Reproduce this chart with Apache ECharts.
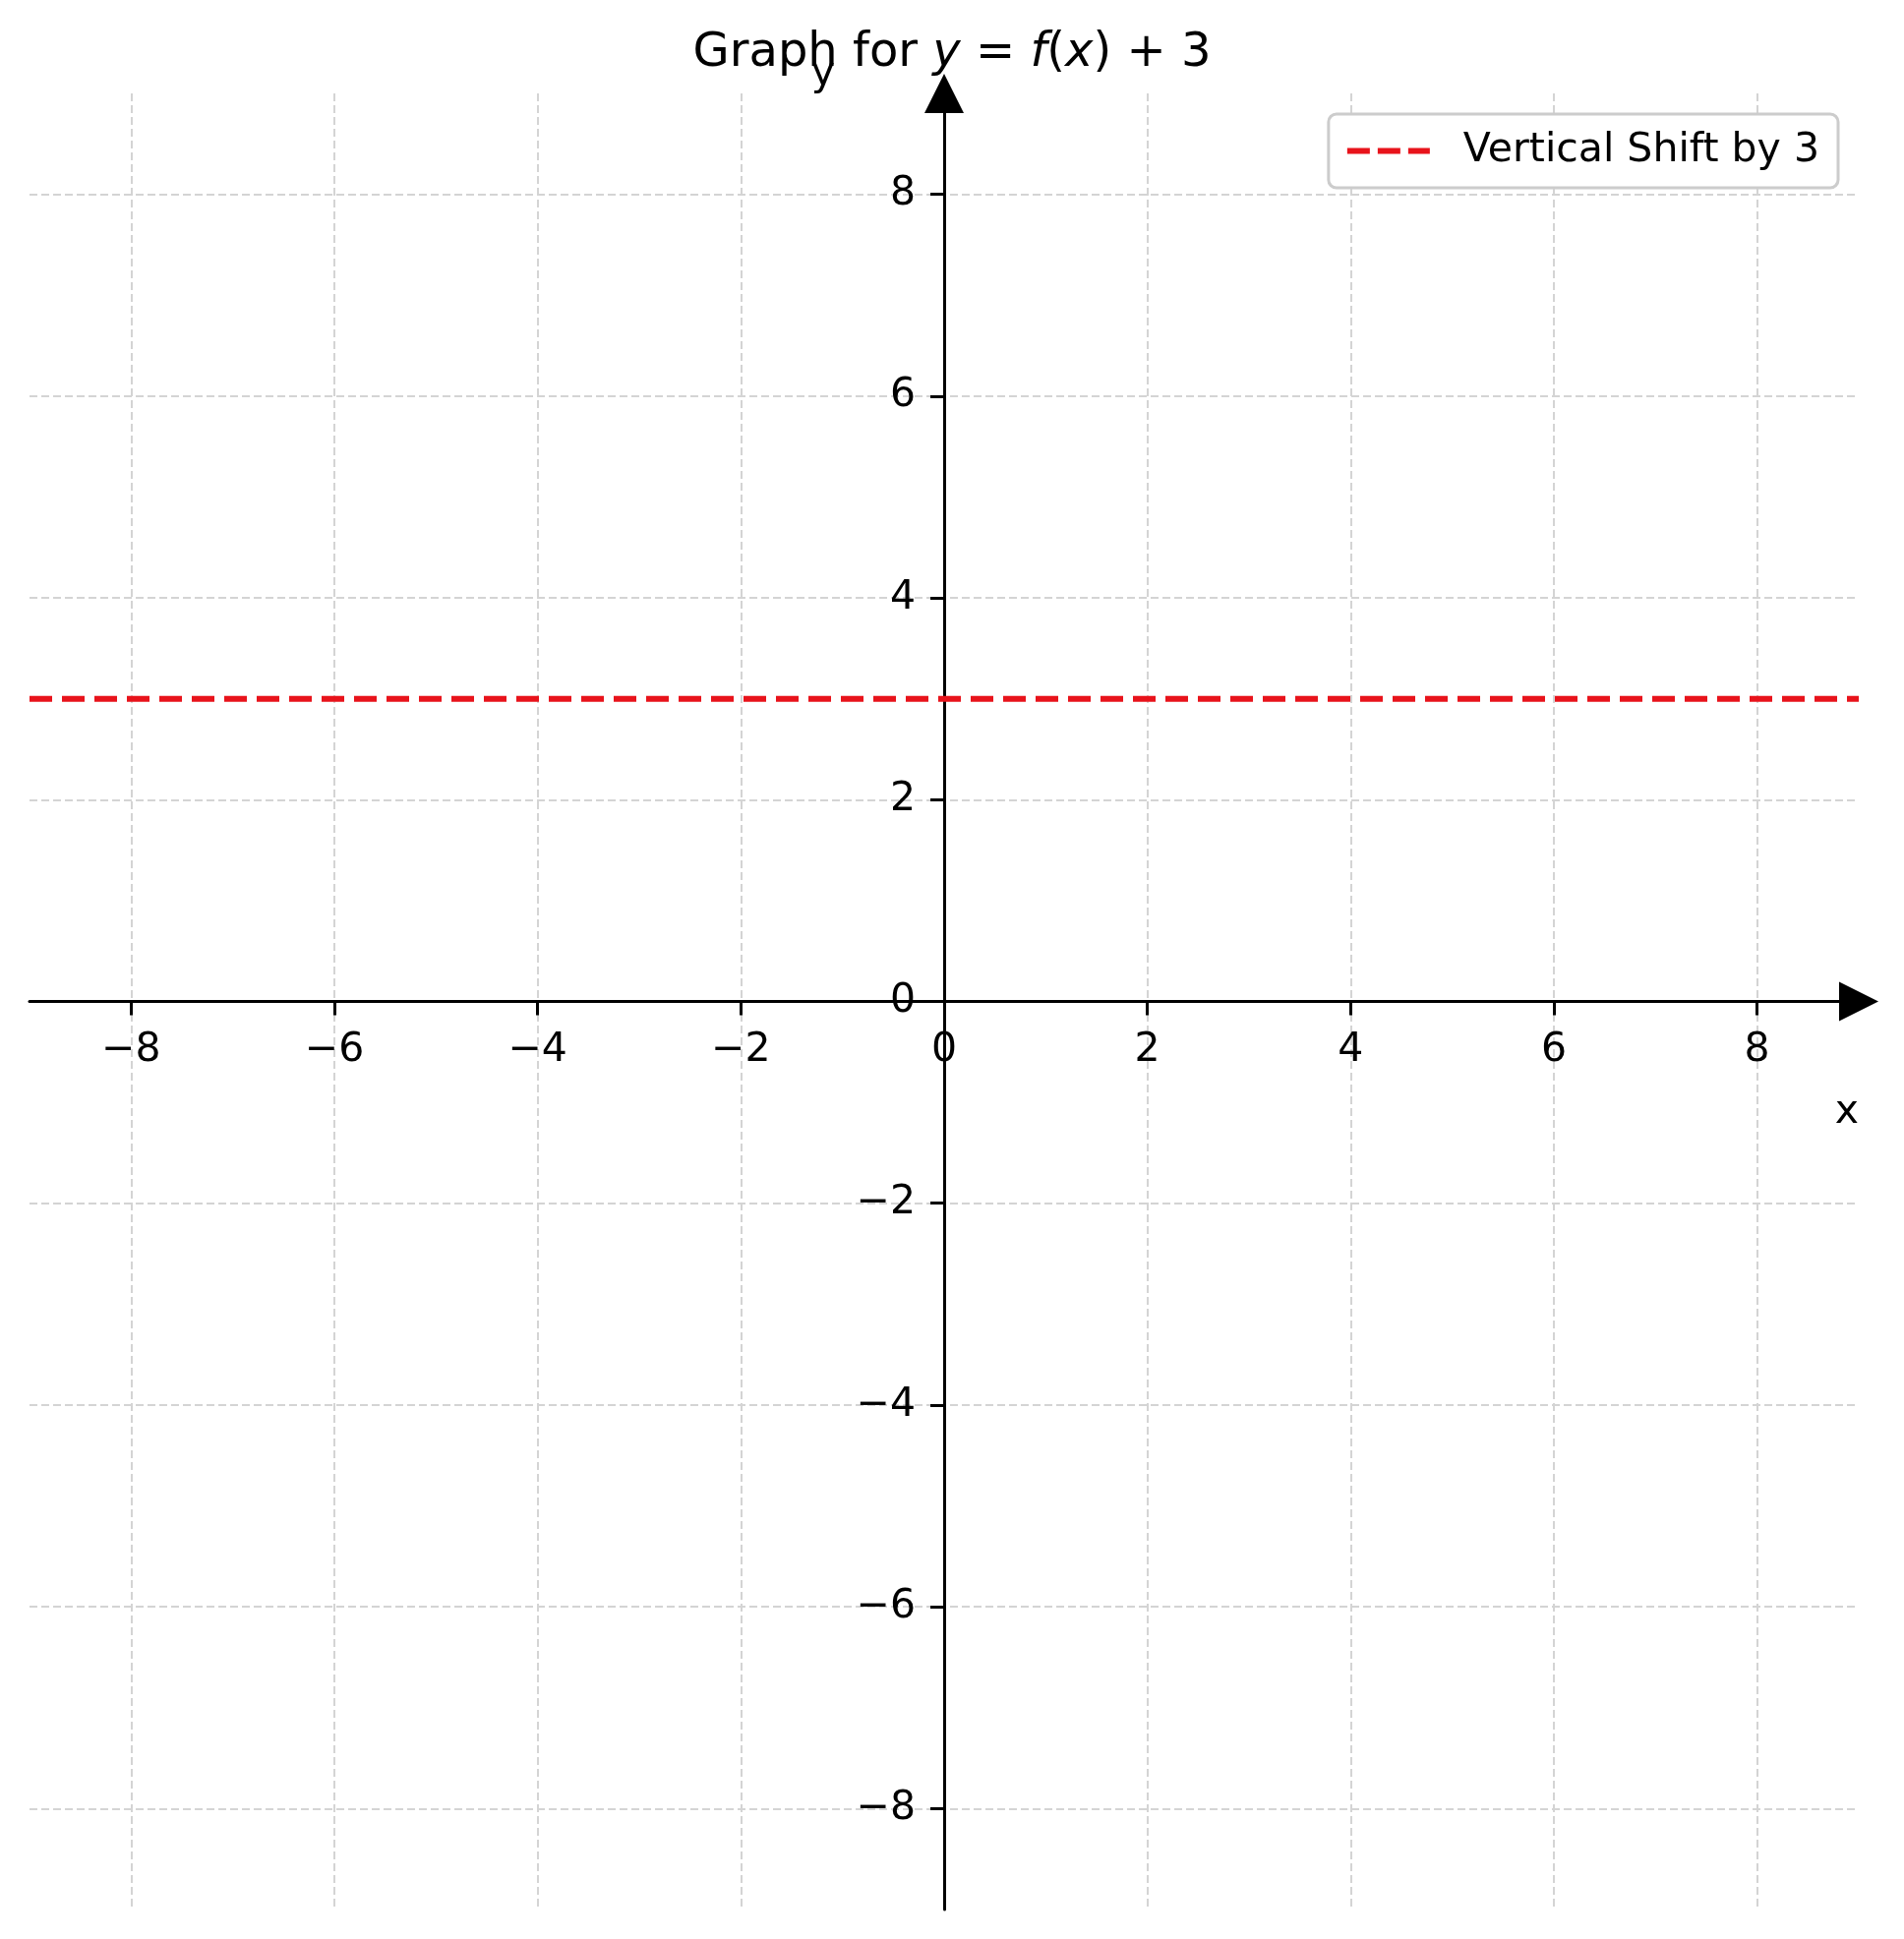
<!DOCTYPE html>
<html>
<head>
<meta charset="utf-8">
<script src="https://cdn.jsdelivr.net/npm/echarts@6/dist/echarts.min.js"></script>
<style>
  html, body { margin: 0; padding: 0; background: #fff; }
  #main { width: 1936px; height: 1972px; }
</style>
</head>
<body>
<div id="main"></div>
<script>
  // tick values and the shifted line
  var xTicks = [-8, -6, -4, -2, 0, 2, 4, 6, 8];
  var yTicks = [-8, -6, -4, -2, 0, 2, 4, 6, 8];
  var axisMin = -9;
  var axisMax = 9;
  var shiftX = [-9, 9];
  var shiftY = [3, 3];
  var seriesName = "Vertical Shift by 3";

  var font = "DejaVu Sans";
  var red = "#e8131b";
  var gridBox = { left: 30, right: 46, top: 95, bottom: 30 };
  var W = 1936, H = 1972;

  // spines sit on the zero lines (axis offset from the grid edge)
  var plotW = W - gridBox.left - gridBox.right;
  var plotH = H - gridBox.top - gridBox.bottom;
  var yAxisOffset = -plotW * (0 - axisMin) / (axisMax - axisMin);
  var xAxisOffset = -plotH * (0 - axisMin) / (axisMax - axisMin);

  var chart = echarts.init(document.getElementById("main"));

  // matplotlib style minus sign
  function fmt(v) {
    return String(v).replace("-", "\u2212");
  }

  var lineData = shiftX.map(function (x, i) {
    return [x, shiftY[i]];
  });

  var tickFont = { fontFamily: font, fontSize: 41, color: "#000" };
  var gridLine = { show: true, lineStyle: { color: "#d4d4d4", width: 2, type: [8, 4] } };

  chart.setOption({
    animation: false,
    backgroundColor: "#fff",
    title: {
      text: "{a|Graph for }{b|y}{a| = }{b|f}{a|(}{b|x}{a|) + 3}",
      left: "center",
      top: 26,
      textStyle: {
        fontWeight: "normal",
        rich: {
          a: { fontFamily: font, fontSize: 48, color: "#000", fontWeight: "normal" },
          b: { fontFamily: font, fontSize: 48, color: "#000", fontWeight: "normal", fontStyle: "italic" }
        }
      }
    },
    legend: {
      data: [seriesName],
      right: 67,
      top: 116,
      itemWidth: 84,
      itemHeight: 20,
      padding: [17, 19, 17, 16],
      borderColor: "#cccccc",
      borderWidth: 3,
      borderRadius: 8,
      backgroundColor: "#fff",
      itemStyle: { opacity: 0 },
      lineStyle: { color: red, width: 6, type: [23, 8] },
      textStyle: {
        fontFamily: font,
        fontSize: 41,
        color: "#000",
        padding: [0, 0, 0, 29]
      }
    },
    grid: {
      left: gridBox.left,
      right: gridBox.right,
      top: gridBox.top,
      bottom: gridBox.bottom,
      containLabel: false,
      outerBoundsMode: "none"
    },
    xAxis: {
      type: "value",
      position: "bottom",
      offset: xAxisOffset,
      min: axisMin,
      max: axisMax,
      name: "x",
      nameLocation: "end",
      nameGap: -12,
      nameTextStyle: {
        fontFamily: font,
        fontSize: 41,
        color: "#000",
        align: "center",
        verticalAlign: "top",
        padding: [92, 0, 0, 0]
      },
      axisLine: {
        onZero: false,
        lineStyle: { color: "#000", width: 3 },
        symbol: ["none", "triangle"],
        symbolSize: [40, 40]
      },
      axisTick: { customValues: xTicks, length: 14, lineStyle: { color: "#000", width: 3 } },
      axisLabel: Object.assign({ customValues: xTicks, margin: 29, formatter: fmt, hideOverlap: false }, tickFont),
      splitLine: gridLine
    },
    yAxis: {
      type: "value",
      position: "left",
      offset: yAxisOffset,
      min: axisMin,
      max: axisMax,
      name: "y",
      nameLocation: "end",
      nameGap: 20,
      nameTextStyle: {
        fontFamily: font,
        fontSize: 41,
        color: "#000",
        align: "center",
        verticalAlign: "middle",
        padding: [0, 246, 0, 0]
      },
      axisLine: {
        onZero: false,
        lineStyle: { color: "#000", width: 3 },
        symbol: ["none", "triangle"],
        symbolSize: [40, 40]
      },
      axisTick: { customValues: yTicks, length: 14, lineStyle: { color: "#000", width: 3 } },
      axisLabel: Object.assign({ customValues: yTicks, margin: 29, formatter: fmt, hideOverlap: false }, tickFont),
      splitLine: gridLine
    },
    series: [
      {
        name: seriesName,
        type: "line",
        data: lineData,
        symbol: "none",
        silent: true,
        lineStyle: { color: red, width: 6, type: [23, 10] },
        itemStyle: { color: red }
      }
    ]
  });
</script>
</body>
</html>
